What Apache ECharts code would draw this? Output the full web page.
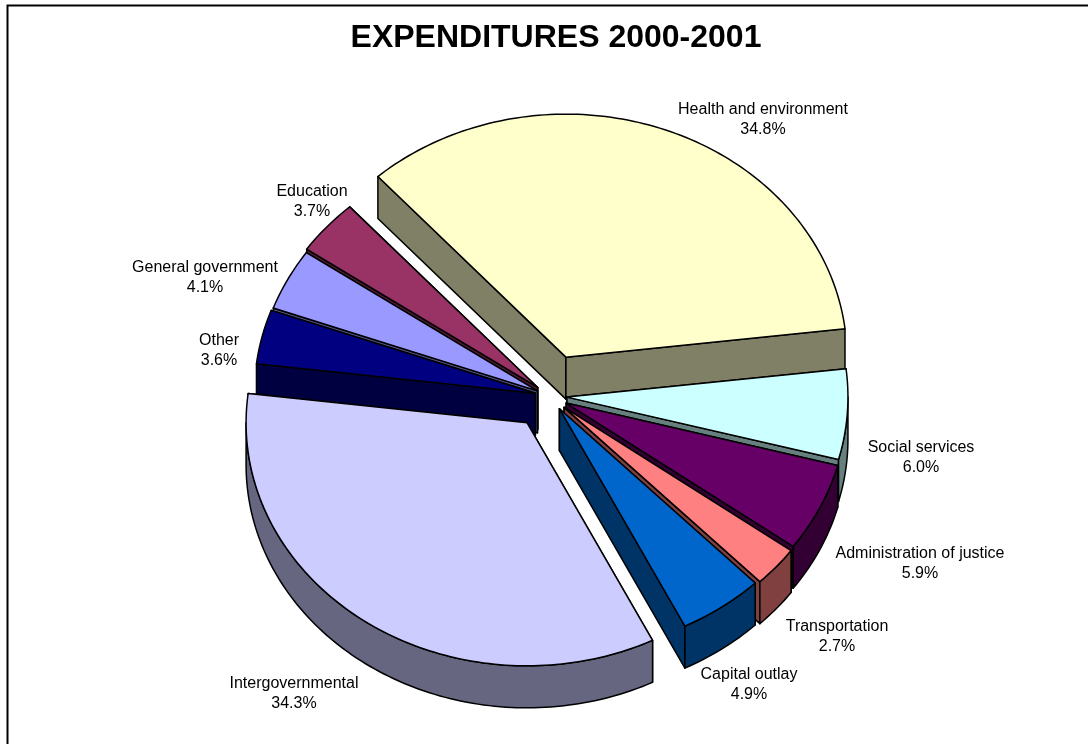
<!DOCTYPE html>
<html><head><meta charset="utf-8">
<style>html,body{margin:0;padding:0;background:#fff}#c{width:1088px;height:744px}</style>
<script src="https://cdn.jsdelivr.net/npm/echarts@6/dist/echarts.min.js"></script>
</head><body><div id="c"></div>
<script>
var categories=["Health and environment","Social services","Administration of justice","Transportation","Capital outlay","Intergovernmental","Other","General government","Education"];
var percents=[34.8,6.0,5.9,2.7,4.9,34.3,3.6,4.1,3.7];
var topColors=["#FFFFCC","#CCFFFF","#660066","#FF8080","#0066CC","#CCCCFF","#000080","#9999FF","#993366"];
var sideColors=["#808066","#668080","#330033","#804040","#003366","#666680","#000040","#4D4D80","#4D1A33"];
// pie layout (not data)
var startDeg=318, rx=281, ry=243, depth=42, cx=549, cy=396;
var explode=[48,18,19,20,18,38,14,13,15];
var labelPos=[[763,120],[921,458],[920,564],[837,637],[749,685],[294,694],[219,351],[205,278],[312,202]];
function pt(c,a,dz){return [c[0]+rx*Math.sin(a),c[1]-ry*Math.cos(a)+(dz||0)];}
function arc(c,a0,a1,dz){var n=Math.max(2,Math.ceil(Math.abs(a1-a0)/0.02)),p=[];for(var i=0;i<=n;i++)p.push(pt(c,a0+(a1-a0)*i/n,dz));return p;}
var total=percents.reduce(function(a,b){return a+b;},0);
var slices=[],acc=0;
percents.forEach(function(v,i){var a0=(startDeg+acc/total*360)*Math.PI/180;acc+=v;var a1=(startDeg+acc/total*360)*Math.PI/180;
 var m=(a0+a1)/2,e=explode[i];
 slices.push({i:i,a0:a0,a1:a1,c:[cx+e*Math.sin(m),cy-e*ry/rx*Math.cos(m)]});});
var ln={stroke:"#000",lineWidth:1.5,lineJoin:"round"};
function poly(p,fill){return {type:"polygon",shape:{points:p},style:Object.assign({fill:fill},ln)};}
function sliceEls(s){
 var c=s.c,els=[],side=sideColors[s.i],apexB=[c[0],c[1]+depth];
 var wall=function(a){var P=pt(c,a),Q=pt(c,a,depth);return poly([c,P,Q,apexB],side);};
 var w=[[s.a0,Math.cos(s.a0)],[s.a1,Math.cos(s.a1)]].sort(function(x,y){return y[1]-x[1];});
 els.push(wall(w[0][0]));els.push(wall(w[1][0]));
 var lo=s.a0,hi=s.a1;
 [[Math.PI/2,Math.PI*1.5],[Math.PI*2.5,Math.PI*3.5]].forEach(function(r){
  var a=Math.max(lo,r[0]),b=Math.min(hi,r[1]);
  if(b>a){els.push(poly(arc(c,a,b,0).concat(arc(c,b,a,depth)),side));}
 });
 els.push(poly([c].concat(arc(c,s.a0,s.a1,0)),topColors[s.i]));
 return els;
}
// back-to-front painting order
var order=[0,8,7,6,1,2,3,4,5];
var chart=echarts.init(document.getElementById("c"),null,{renderer:"canvas"});
chart.setOption({animation:false,backgroundColor:"#fff",
 title:{text:"EXPENDITURES 2000-2001",left:551,top:17,textAlign:"center",textStyle:{fontFamily:"Liberation Sans",fontSize:32,fontWeight:"bold",color:"#000"}},
 graphic:[{type:"rect",shape:{x:7.5,y:5.5,width:1100,height:760},style:{fill:"none",stroke:"#000",lineWidth:2},z:0}],
 series:[{type:"custom",coordinateSystem:"none",silent:true,clip:false,z:2,
  data:order.map(function(i){return {value:[i,percents[i]],name:categories[i]};}),
  renderItem:function(p,api){var s=slices[api.value(0)];return {type:"group",children:sliceEls(s)};}},
 {type:"custom",coordinateSystem:"none",silent:true,z:3,
  data:categories.map(function(n,i){return {value:[i],name:n};}),
  renderItem:function(p,api){var i=api.value(0);return {type:"text",x:labelPos[i][0],y:labelPos[i][1],
   style:{text:categories[i]+"\n"+percents[i].toFixed(1)+"%",align:"center",verticalAlign:"middle",font:"16px 'Liberation Sans'",lineHeight:20,fill:"#000"}};}}]
});
</script></body></html>
